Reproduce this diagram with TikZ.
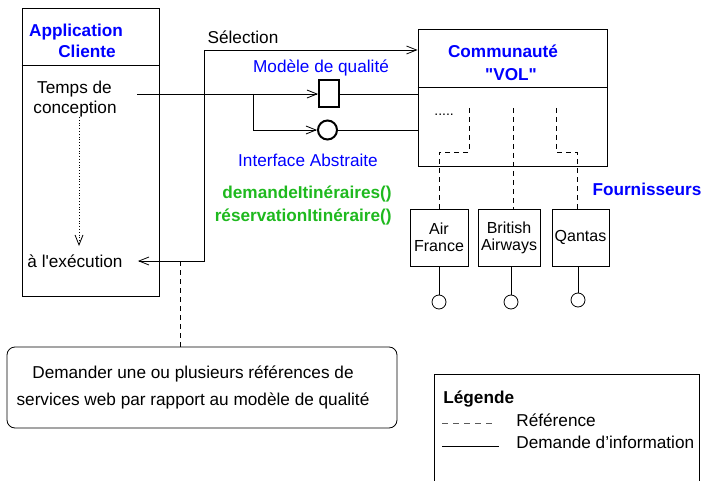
\documentclass[tikz,border=0pt]{standalone}
\usepackage{fontspec}
\setmainfont{Liberation Sans}[Ligatures=TeXOff]
\usetikzlibrary{arrows.meta}
\definecolor{tblue}{RGB}{0,0,255}
\definecolor{tgreen}{RGB}{30,185,30}
\definecolor{dgray}{RGB}{90,90,90}
\begin{document}
\begin{tikzpicture}[x=1pt,y=-1pt, line width=0.8pt,
  txt/.style={inner sep=0pt, text height=12pt, text depth=0pt, font=\fontsize{17.2}{20}\selectfont},
  btxt/.style={txt, font=\fontsize{17.2}{20}\selectfont\bfseries},
  box/.style={draw, inner sep=0pt},
  sbox/.style={draw, inner sep=0pt, align=center, minimum width=58pt, minimum height=57pt, font=\fontsize{16}{17}\selectfont},
  port/.style={draw, circle, inner sep=0pt, minimum size=14pt},
  ref/.style={dash pattern=on 5pt off 4pt},
  tip/.style={-{Straight Barb[length=10pt,width=8pt]}},
  tips/.style={{Straight Barb[length=10pt,width=8pt]}-{Straight Barb[length=10pt,width=8pt]}}
]
\useasboundingbox (0,0) rectangle (703,481);

% Application Cliente
\node[box, minimum width=137pt, minimum height=288pt] (app) at (90.5,152) {};
\draw (app.west |- 0,65) -- (app.east |- 0,65);
\node[btxt, text=tblue] (t1) at (76,31) {Application};
\node[btxt, text=tblue] (t2) at (87,52) {Cliente};
\node[txt] (tc1) at (74.5,88) {Temps de};
\node[txt] (tc2) at (75,108) {conception};
\node[txt] (exe) at (75,261) {à l'exécution};
\coordinate (d1) at (79,117);
\coordinate (d2) at (79,246);
\draw[dotted, tip] (d1) -- (d2);

% Communaute
\node[box, minimum width=189pt, minimum height=137pt] (comm) at (512.5,97.5) {};
\draw (comm.west |- 0,87) -- (comm.east |- 0,87);
\node[btxt, text=tblue] (c1) at (503,52) {Communauté};
\node[btxt, text=tblue] (c2) at (511,75) {"VOL"};
\node[inner sep=0pt, anchor=base west, font=\fontsize{14}{16}\selectfont] (dots) at (434,116) {.....};

% quality model / interface
\node[box, line width=2pt, minimum width=20pt, minimum height=27pt] (sq) at (329,94) {};
\node[draw, circle, line width=2pt, minimum size=19pt, inner sep=0pt] (ci) at (327.5,130) {};
\node[txt, text=tblue] (mq) at (321,67) {Modèle de qualité};
\node[txt, text=tblue] (ia) at (308,161) {Interface Abstraite};
\node[btxt, text=tgreen, anchor=east] (g1) at (392,192) {demandeItinéraires()};
\node[btxt, text=tgreen, anchor=east] (g2) at (392,215) {réservationItinéraire()};

\coordinate (ts) at (137,94);
\coordinate (br) at (253,94);
\draw[tip] (ts) -- (sq.west);
\draw[tip] (br) |- (ci.west);
\draw (sq.east) -- (sq.east -| comm.west);
\draw (ci.east) -- (ci.east -| comm.west);

% Selection
\coordinate (selc) at (204,50);
\draw[tips] ([xshift=15pt]exe.east) -| (selc) -- (selc -| comm.west);
\node[txt] (sl) at (243,38) {Sélection};

% Suppliers
\node[sbox] (af) at (439,237.5) {Air\\France};
\node[sbox, minimum width=62pt] (ba) at (509,237.5) {British\\Airways};
\node[sbox, minimum width=57pt] (qa) at (580.5,237.5) {Qantas};
\node[btxt, text=tblue] (fo) at (647,189) {Fournisseurs};

\coordinate (a1) at (469,108);
\coordinate (b1) at (513,108);
\coordinate (q1) at (556,108);
\draw[ref] (a1) -- (469,152) -| (af.north);
\draw[ref] (b1) -- (b1 |- ba.north);
\draw[ref] (q1) -- (556,152) -| ([xshift=-3.5pt]qa.north);

\node[port] (afc) at (439,302) {};
\node[port] (bac) at (511,302) {};
\node[port] (qac) at (578,300) {};
\draw (af.south) -- (afc.north);
\draw (ba.south -| bac) -- (bac.north);
\draw (qa.south -| qac) -- (qac.north);

% Note
\node[draw, rounded corners=8pt, minimum width=390pt, minimum height=81pt, inner sep=0pt] (note) at (202,387.5) {};
\node[align=center, inner sep=0pt, font=\fontsize{17.2}{27}\selectfont] (notetxt) at (193,387.5)
  {Demander une ou plusieurs références de\\services web par rapport au modèle de qualité};
\coordinate (nd) at (180,261);
\draw[ref] (nd) -- (nd |- note.north);

% Legend
\draw (434,481) -- (434,374) -- (699,374) -- (699,481);
\node[btxt, anchor=west] (lg) at (443,397) {Légende};
\coordinate (l1a) at (442,423);
\coordinate (l1b) at (494,423);
\draw[dgray, dash pattern=on 6pt off 5pt] (l1a) -- (l1b);
\node[txt, anchor=west] (lr) at (516,420) {Référence};
\coordinate (l2a) at (442,446);
\coordinate (l2b) at (499,446);
\draw (l2a) -- (l2b);
\node[txt, anchor=west] (ld) at (516,442) {Demande d’information};
\end{tikzpicture}
\end{document}
